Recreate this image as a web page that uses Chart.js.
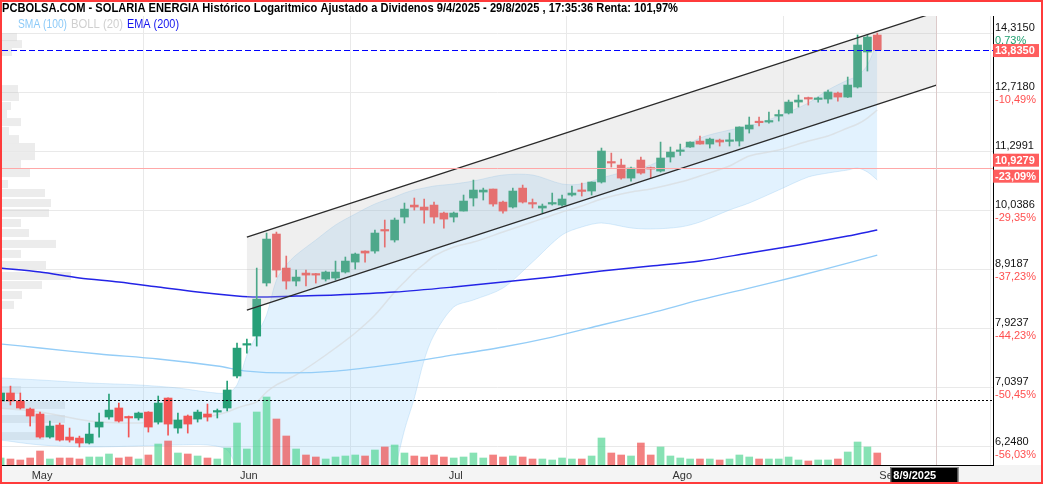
<!DOCTYPE html>
<html>
<head>
<meta charset="utf-8">
<script src="https://cdn.jsdelivr.net/npm/chart.js@4.4.1/dist/chart.umd.min.js"></script>
<style>
  html, body { margin: 0; padding: 0; background: #fff; }
  canvas { display: block; }
</style>
</head>
<body>
<canvas id="grafica" width="1043" height="484"></canvas>
<script>
// sesiones: indice 0 = 2/5/2025, la primera vela visible es la -4
const primerIndice = -4;
const aperturas = [6.845,6.956,6.845,6.736,6.669,6.368,6.523,6.368,6.355,6.292,6.497,6.629,6.750,6.629,6.616,6.695,6.562,6.886,6.484,6.642,6.602,6.669,6.695,6.750,7.197,7.657,7.797,8.672,9.567,8.936,8.706,8.847,8.829,8.741,8.759,8.865,9.044,9.246,9.246,9.644,9.453,9.898,10.139,10.099,10.139,9.978,9.898,10.018,10.283,10.407,10.470,10.200,10.099,10.490,10.170,10.079,10.160,10.139,10.345,10.430,10.428,10.618,11.052,10.986,10.703,11.097,10.920,10.854,11.164,11.290,11.390,11.527,11.458,11.550,11.520,11.527,11.809,11.975,11.975,12.120,12.193,12.465,12.565,12.530,12.540,12.692,12.590,12.846,13.780,14.258];
const maximos = [6.984,7.053,6.956,6.750,6.695,6.575,6.549,6.484,6.380,6.549,6.682,6.942,6.817,6.642,6.695,6.700,6.914,6.890,6.682,6.656,6.722,6.804,6.736,7.124,7.688,7.750,8.936,9.586,9.605,9.154,8.900,8.900,8.840,8.883,9.062,9.136,9.209,9.250,9.644,9.839,9.879,10.180,10.283,10.263,10.200,9.998,9.998,10.345,10.660,10.490,10.470,10.221,10.490,10.554,10.263,10.160,10.386,10.345,10.533,10.596,10.620,11.367,11.253,11.120,10.942,11.164,10.942,11.504,11.390,11.458,11.510,11.644,11.596,11.573,11.714,11.860,12.096,12.096,12.217,12.266,12.515,12.642,12.590,12.590,12.768,12.718,13.106,14.258,14.258,14.315];
const minimos = [6.818,6.791,6.736,6.510,6.355,6.355,6.317,6.304,6.242,6.280,6.368,6.602,6.562,6.368,6.589,6.432,6.536,6.393,6.419,6.419,6.562,6.575,6.616,6.709,7.168,7.536,7.642,8.620,8.776,8.567,8.620,8.620,8.671,8.706,8.724,8.847,8.918,9.044,9.209,9.320,9.414,9.780,10.038,9.780,9.780,9.682,9.800,10.018,10.119,10.242,10.119,9.978,10.079,10.180,10.079,9.978,10.139,10.119,10.324,10.324,10.345,10.596,10.942,10.681,10.639,10.789,10.703,10.833,11.052,11.200,11.380,11.458,11.367,11.413,11.413,11.413,11.714,11.880,11.951,11.999,12.170,12.340,12.390,12.465,12.440,12.490,12.580,12.820,13.264,13.835];
const cierres = [6.956,6.845,6.750,6.642,6.368,6.510,6.329,6.329,6.292,6.406,6.562,6.722,6.575,6.616,6.682,6.497,6.817,6.536,6.589,6.536,6.695,6.629,6.709,6.998,7.611,7.673,8.397,9.471,8.900,8.706,8.776,8.811,8.811,8.865,8.865,9.062,9.191,9.209,9.586,9.625,9.839,10.058,10.099,10.038,9.898,9.858,9.978,10.221,10.449,10.449,10.160,10.018,10.428,10.200,10.160,10.119,10.180,10.263,10.386,10.420,10.618,11.299,11.030,10.703,10.920,10.811,10.898,11.142,11.276,11.300,11.504,11.458,11.573,11.504,11.527,11.857,11.904,11.960,11.999,12.144,12.465,12.515,12.540,12.540,12.718,12.590,12.897,13.975,14.200,13.835];
const volumenes = [700,600,500,700,1400,600,700,700,600,800,800,1100,700,800,600,1000,2100,2400,1200,1100,900,700,600,1700,4200,1600,5300,6800,4600,2900,1600,1000,800,600,800,900,1000,900,1500,1800,2000,1200,900,800,1000,800,700,800,1200,700,1000,800,900,800,600,600,500,700,600,600,900,2700,1200,1000,900,2200,1000,1800,900,700,600,600,600,500,600,1000,800,600,600,600,800,500,400,500,500,600,1300,2300,1800,1200];

// bandas de Bollinger (20)
const bollIdx = [-4,0,5,10,14,17,19,20,21,22,23,24,25,26,28,30,32,34,36,37,38,39,40,42,44,47,50,53,55,57,60,62,65,67,70,72,75,78,80,82,83,84,85];
const bollSup = [7.169,7.140,7.097,7.069,7.026,6.969,6.956,7.069,7.507,7.814,8.133,8.724,8.991,9.173,9.453,9.742,9.959,10.161,10.304,10.387,10.450,10.492,10.534,10.577,10.639,10.769,10.769,10.577,10.577,10.705,10.877,10.987,11.321,11.598,11.785,11.880,12.121,12.441,12.770,13.027,13.133,13.425,14.057];
const bollMed = [6.750,6.695,6.577,6.550,6.589,6.630,6.695,6.750,6.791,6.832,6.970,7.069,7.140,7.212,7.402,7.613,7.845,8.133,8.517,8.689,8.866,9.009,9.155,9.322,9.414,9.605,9.799,9.998,10.120,10.263,10.407,10.471,10.617,10.747,10.965,11.187,11.321,11.528,11.644,11.833,11.928,12.072,12.267];
const bollInf = [6.330,6.268,6.243,6.255,6.268,6.268,6.205,5.961,5.610,5.400,5.200,5.050,5.000,4.950,4.900,4.900,5.000,5.250,5.961,6.458,6.886,7.431,7.814,8.265,8.382,8.585,9.045,9.549,9.703,9.781,9.684,9.664,9.703,9.800,10.039,10.181,10.450,10.726,10.812,10.877,10.920,10.834,10.662];

const smaIdx = [-4,0,6,12,18,21,25,30,36,42,47,52,57,62,67,72,77,82,85];
const sma100 = [7.675,7.613,7.522,7.447,7.343,7.269,7.241,7.269,7.372,7.507,7.628,7.782,7.972,8.166,8.382,8.585,8.795,9.027,9.173];
const emaIdx = [-4,0,4,8,12,16,20,22,26,30,36,42,47,52,57,62,67,72,77,82,85];
const ema200 = [8.937,8.865,8.760,8.689,8.603,8.516,8.449,8.432,8.449,8.466,8.516,8.603,8.689,8.777,8.883,8.973,9.063,9.210,9.359,9.529,9.645];

// canal de regresion
const canalIdx = [21, 91];
const canalSup = [9.510, 14.929];
const canalInf = [8.215, 12.898];

// perfil de volumen (precio, volumen relativo)
const perfilPrecio = [14.200,14.003,13.780,12.795,12.592,12.366,12.170,11.975,11.761,11.574,11.390,11.186,11.009,10.812,10.577,10.387,10.181,9.979,9.781,9.587,9.378,9.192,8.991,8.795,8.637,8.466,8.299,6.998,6.791,6.603,6.381];
const perfilVolumen = [15,20,10,16,17,9,5,19,7,17,33,33,19,28,6,43,49,47,19,27,54,19,44,69,40,20,12,19,63,63,42];

const ticksPrecio = [6.248,7.0397,7.9237,8.9187,10.0386,11.2991,12.718,14.315];
const ticksPct = ['-56,03%','-50,45%','-44,23%','-37,23%','-29,35%','-20,48%','-10,49%','0,73%'];
const inicioMes = [0, 21, 42, 65, 86];
const nombreMes = ['May','Jun','Jul','Ago','Sep'];

const ultimoCierre = 13.835;
const soporte = 10.9279;
const soportePct = '-23,09%';
const lineaPunteada = 6.859;
const fechaCursor = 91;

const titulo = 'PCBOLSA.COM - SOLARIA ENERGIA Histórico Logaritmico Ajustado a Dividenos 9/4/2025 - 29/8/2025 , 17:35:36 Renta: 101,97%';

const VERDE = '#27a078';
const ROJO = '#f25656';
const FUENTE = '"Liberation Sans", Arial, sans-serif';

const xs = cierres.map((_, i) => i + primerIndice);
const sube = cierres.map((c, i) => c >= aperturas[i]);
const pts = (idx, vals) => idx.map((x, i) => ({x, y: vals[i]}));
const coma = v => v.toFixed(4).replace('.', ',');

function textoAncho(ctx, txt, x, y, ancho) {
  const w = ctx.measureText(txt).width;
  ctx.save();
  ctx.translate(x, y);
  ctx.scale(ancho / w, 1);
  ctx.fillText(txt, 0, 0);
  ctx.restore();
}

const decoracion = {
  id: 'decoracion',
  beforeDraw(chart) {
    const {ctx, width, height, chartArea: a} = chart;
    ctx.save();
    ctx.fillStyle = '#fff';
    ctx.fillRect(0, 0, width, height);
    ctx.fillStyle = '#f4f4f4';
    ctx.fillRect(0, a.bottom, width, height - a.bottom);
    ctx.restore();
  },
  beforeDatasetsDraw(chart) {
    const {ctx, chartArea: a, scales: {y}} = chart;
    ctx.save();
    ctx.beginPath();
    ctx.rect(a.left, a.top, a.right - a.left, a.bottom - a.top);
    ctx.clip();
    ctx.fillStyle = 'rgba(205,205,205,0.38)';
    perfilPrecio.forEach((p, i) => {
      const py = y.getPixelForValue(p);
      ctx.fillRect(a.left, py - 4, perfilVolumen[i], 8);
    });
    ctx.restore();
  },
  afterDatasetsDraw(chart) {
    const {ctx, chartArea: a, scales: {x, y}} = chart;
    ctx.save();
    ctx.beginPath();
    ctx.rect(a.left, a.top, a.right - a.left, a.bottom - a.top);
    ctx.clip();
    const horiz = (v, color, dash) => {
      const py = Math.round(y.getPixelForValue(v)) + 0.5;
      ctx.strokeStyle = color;
      ctx.lineWidth = 1;
      ctx.setLineDash(dash);
      ctx.beginPath();
      ctx.moveTo(a.left, py);
      ctx.lineTo(a.right, py);
      ctx.stroke();
    };
    horiz(soporte, '#ffa8a8', []);
    horiz(ultimoCierre, '#0000ff', [6, 3]);
    horiz(lineaPunteada, '#000', [2, 2]);
    ctx.setLineDash([]);
    const px = Math.round(x.getPixelForValue(fechaCursor)) + 0.5;
    ctx.strokeStyle = '#dccaca';
    ctx.beginPath();
    ctx.moveTo(px, a.top);
    ctx.lineTo(px, a.bottom);
    ctx.stroke();
    ctx.restore();
  },
  afterDraw(chart) {
    const {ctx, width, height, chartArea: a, scales: {x, y}} = chart;
    ctx.save();
    // etiquetas del eje de precios
    ctx.textBaseline = 'middle';
    ctx.textAlign = 'left';
    ctx.font = '11px ' + FUENTE;
    ticksPrecio.forEach((v, i) => {
      const py = y.getPixelForValue(v);
      ctx.fillStyle = '#111';
      ctx.fillText(coma(v), a.right + 2, py - 5);
      ctx.fillStyle = ticksPct[i].startsWith('-') ? '#ff5050' : '#20a070';
      ctx.fillText(ticksPct[i], a.right + 2, py + 8);
    });
    // cajas rojas
    const caja = (txt, top) => {
      ctx.fillStyle = 'rgba(255,80,80,0.92)';
      ctx.fillRect(a.right, top, 46, 13);
      ctx.fillStyle = '#fff';
      ctx.font = 'bold 11px ' + FUENTE;
      ctx.fillText(txt, a.right + 2, top + 7);
    };
    const pc = y.getPixelForValue(ultimoCierre);
    caja(coma(ultimoCierre), pc - 6);
    const ps = y.getPixelForValue(soporte);
    caja(coma(soporte), ps - 14);
    caja(soportePct, ps + 2);
    // eje de fechas
    ctx.font = '11px ' + FUENTE;
    ctx.fillStyle = '#333';
    ctx.textAlign = 'center';
    inicioMes.forEach((m, i) => {
      ctx.fillText(nombreMes[i], x.getPixelForValue(m) + 2, a.bottom + 11);
    });
    const pf = x.getPixelForValue(fechaCursor);
    ctx.fillStyle = '#000';
    ctx.fillRect(pf - 46, a.bottom + 2, 68, 16);
    ctx.strokeStyle = '#888';
    ctx.lineWidth = 1;
    ctx.strokeRect(pf - 45.5, a.bottom + 2.5, 67, 15);
    ctx.fillStyle = '#fff';
    ctx.font = 'bold 11px ' + FUENTE;
    ctx.textAlign = 'left';
    ctx.fillText('8/9/2025', pf - 43, a.bottom + 10.5);
    // titulo y leyenda
    ctx.textBaseline = 'alphabetic';
    ctx.fillStyle = '#000';
    ctx.font = 'bold 12px ' + FUENTE;
    textoAncho(ctx, titulo, 2, 12, 676);
    ctx.font = '12px ' + FUENTE;
    ctx.fillStyle = '#8ccaf8';
    textoAncho(ctx, 'SMA (100)', 18, 28, 49);
    ctx.fillStyle = '#d0d0d0';
    textoAncho(ctx, 'BOLL (20)', 71, 28, 52);
    ctx.fillStyle = '#1414ee';
    textoAncho(ctx, 'EMA (200)', 127, 28, 52);
    // marco
    ctx.strokeStyle = '#ff3b3b';
    ctx.lineWidth = 2;
    ctx.strokeRect(1, 1, width - 2, height - 2);
    ctx.restore();
  }
};

const linea = (data, color, ancho, orden, extra) => Object.assign({
  type: 'line', data, borderColor: color, borderWidth: ancho, pointRadius: 0,
  tension: 0.3, fill: false, order: orden, yAxisID: 'y'
}, extra || {});

new Chart(document.getElementById('grafica'), {
  type: 'bar',
  data: {
    datasets: [
      linea(pts(bollIdx, bollSup), 'rgba(140,195,240,0.3)', 1, 9,
        {fill: 1, backgroundColor: 'rgba(135,200,250,0.24)'}),
      linea(pts(bollIdx, bollInf), 'rgba(140,195,240,0.3)', 1, 9),
      linea(pts(bollIdx, bollMed), 'rgba(215,215,215,0.6)', 1.5, 8),
      linea(pts(smaIdx, sma100), '#94cdf7', 1.3, 7),
      linea(pts(emaIdx, ema200), '#2424e6', 1.5, 6),
      {
        type: 'bar', yAxisID: 'y2', order: 5, grouped: false, barThickness: 7,
        data: xs.map((x, i) => ({x, y: volumenes[i]})),
        backgroundColor: sube.map(s => s ? 'rgba(70,210,140,0.65)' : 'rgba(238,70,70,0.68)')
      },
      {
        type: 'bar', yAxisID: 'y', order: 4, grouped: false, barThickness: 1,
        data: xs.map((x, i) => ({x, y: [minimos[i], maximos[i]]})),
        backgroundColor: sube.map(s => s ? VERDE : ROJO)
      },
      {
        type: 'bar', yAxisID: 'y', order: 3, grouped: false, barThickness: 8, minBarLength: 1.5,
        data: xs.map((x, i) => ({x, y: [aperturas[i], cierres[i]]})),
        backgroundColor: sube.map(s => s ? VERDE : ROJO)
      },
      linea(pts(canalIdx, canalSup), '#2a2a2a', 1.3, 2,
        {tension: 0, fill: 9, backgroundColor: 'rgba(190,190,190,0.25)'}),
      linea(pts(canalIdx, canalInf), '#2a2a2a', 1.3, 1, {tension: 0})
    ]
  },
  options: {
    responsive: false,
    animation: false,
    devicePixelRatio: 1,
    events: [],
    layout: {padding: {left: 2, right: 50, top: 16, bottom: 19}},
    plugins: {legend: {display: false}, tooltip: {enabled: false}},
    scales: {
      x: {
        type: 'linear', min: -3.86, max: 96.75, offset: false,
        grid: {color: '#e9e9e9', drawTicks: false},
        border: {color: '#000'},
        ticks: {display: false},
        afterBuildTicks: s => { s.ticks = inicioMes.map(v => ({value: v})); }
      },
      y: {
        type: 'logarithmic', position: 'right', min: 6.021, max: 14.812,
        grid: {color: '#e9e9e9', drawTicks: false},
        border: {color: '#000'},
        ticks: {display: false},
        afterBuildTicks: s => { s.ticks = ticksPrecio.map(v => ({value: v})); }
      },
      y2: {type: 'linear', display: false, min: 0, max: 44900}
    }
  },
  plugins: [decoracion]
});
</script>
</body>
</html>
